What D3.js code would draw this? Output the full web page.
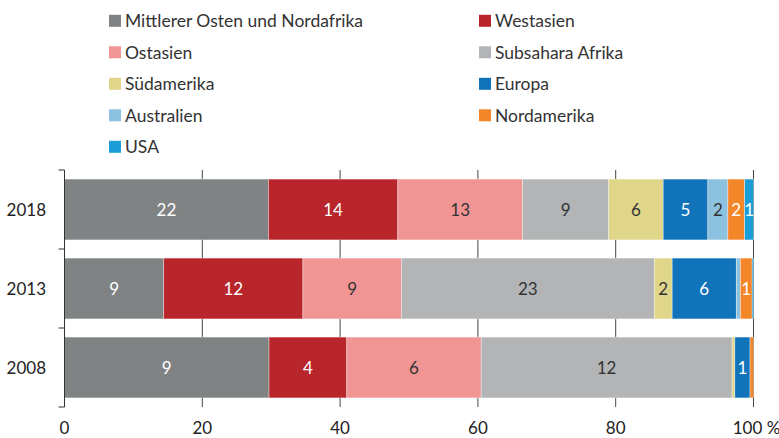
<!DOCTYPE html>
<html>
<head>
<meta charset="utf-8">
<script src="https://cdn.jsdelivr.net/npm/d3@7"></script>
<style>
  html, body { margin: 0; padding: 0; background: #fff; }
  svg { display: block; font-family: Lato, "Noto Sans", sans-serif; }
</style>
</head>
<body>
<svg id="chart" width="779" height="438"></svg>
<script>
// ---- data ----
const years = ["2018", "2013", "2008"];
const categories = ["Mittlerer Osten und Nordafrika", "Westasien", "Ostasien", "Subsahara Afrika",
  "Südamerika", "Europa", "Australien", "Nordamerika", "USA"];
const colors = ["#808384", "#b8252b", "#f09594", "#b2b4b5", "#e0d68a", "#1174ba", "#8cc1df", "#f4862a", "#1b9dd8"];
const labelColors = ["#fff", "#fff", "#333", "#333", "#333", "#fff", "#333", "#fff", "#fff"];
// values per series, in order of years (2018, 2013, 2008)
const menaValues      = [21.9, 8.86, 9.44];
const westasienValues = [13.9, 12.42, 3.59];
const ostasienValues  = [13.4, 8.79, 6.2];
const subsaharaValues = [9.25, 22.57, 11.58];
const suedamerikaValues = [5.85, 1.6, 0.13];
const europaValues    = [4.8, 5.72, 0.7];
const australienValues = [2.15, 0.37, 0];
const nordamerikaValues = [1.8, 1.05, 0.16];
const usaValues       = [0.95, 0.12, 0];
const xTicks = [0, 20, 40, 60, 80, 100];
const xTickLabels = ["0", "20", "40", "60", "80", "100 %"];

const seriesValues = [menaValues, westasienValues, ostasienValues, subsaharaValues,
  suedamerikaValues, europaValues, australienValues, nordamerikaValues, usaValues];

const table = years.map((y, i) => {
  const row = { year: y };
  categories.forEach((c, j) => { row[c] = seriesValues[j][i]; });
  return row;
});

const svg = d3.select("#chart");
const x = d3.scaleLinear().domain([0, 100]).range([64.5, 753.5]);
const y = d3.scaleBand().domain(years).range([170, 407]).paddingInner(0.23).paddingOuter(0.115);

const stacked = d3.stack().keys(categories).offset(d3.stackOffsetExpand)(table);

// gridlines
svg.append("g").selectAll("line").data(xTicks.slice(1)).join("line")
  .attr("x1", d => x(d)).attr("x2", d => x(d))
  .attr("y1", 170).attr("y2", 407)
  .attr("stroke", "#444").attr("stroke-width", 1);

// bars
const groups = svg.append("g").selectAll("g").data(stacked).join("g")
  .attr("fill", (d, i) => colors[i]);
groups.selectAll("rect").data(d => d).join("rect")
  .attr("x", d => x(d[0] * 100))
  .attr("width", d => Math.max(0, x(d[1] * 100) - x(d[0] * 100)))
  .attr("y", d => y(d.data.year))
  .attr("height", y.bandwidth())
  .attr("stroke", "#fff").attr("stroke-opacity", 0.6).attr("stroke-width", 0.6);

// value labels
stacked.forEach((s, i) => {
  svg.append("g").selectAll("text").data(s.filter(d => Math.round(d.data[s.key]) >= 1)).join("text")
    .attr("x", d => (x(d[0] * 100) + x(d[1] * 100)) / 2)
    .attr("y", d => y(d.data.year) + y.bandwidth() / 2)
    .attr("text-anchor", "middle")
    .attr("dominant-baseline", "central")
    .attr("font-size", 17)
    .attr("fill", labelColors[i])
    .text(d => Math.round(d.data[s.key]));
});

// y axis
const yAxis = svg.append("g").attr("stroke", "#333").attr("stroke-width", 1);
yAxis.append("line").attr("x1", 64.5).attr("x2", 64.5).attr("y1", 170).attr("y2", 407);
const bounds = d3.range(years.length + 1).map(i => y.range()[0] + i * y.step());
yAxis.selectAll("line.tick").data(bounds).join("line").attr("class", "tick")
  .attr("x1", 58.5).attr("x2", 64.5).attr("y1", d => d).attr("y2", d => d);

svg.append("g").selectAll("text").data(years).join("text")
  .attr("x", 46).attr("y", d => y(d) + y.bandwidth() / 2)
  .attr("text-anchor", "end").attr("dominant-baseline", "central")
  .attr("font-size", 17).attr("fill", "#222").text(d => d);

// x tick labels
svg.append("g").selectAll("text").data(xTicks).join("text")
  .attr("x", (d, i) => x(d) + (i === xTicks.length - 1 ? 3 : 0))
  .attr("y", 427)
  .attr("text-anchor", "middle").attr("dominant-baseline", "central")
  .attr("font-size", 17).attr("fill", "#222")
  .text((d, i) => xTickLabels[i]);

// legend
const legend = svg.append("g").selectAll("g").data(categories).join("g")
  .attr("transform", (d, i) => `translate(${i % 2 === 0 ? 109 : 479},${20.8 + Math.floor(i / 2) * 31.5})`);
legend.append("rect").attr("x", 0).attr("y", -6).attr("width", 12).attr("height", 12)
  .attr("fill", (d, i) => colors[i]);
legend.append("text").attr("x", 16).attr("y", 0).attr("dominant-baseline", "central")
  .attr("font-size", 17.5).attr("fill", "#333").text(d => d);
</script>
</body>
</html>
